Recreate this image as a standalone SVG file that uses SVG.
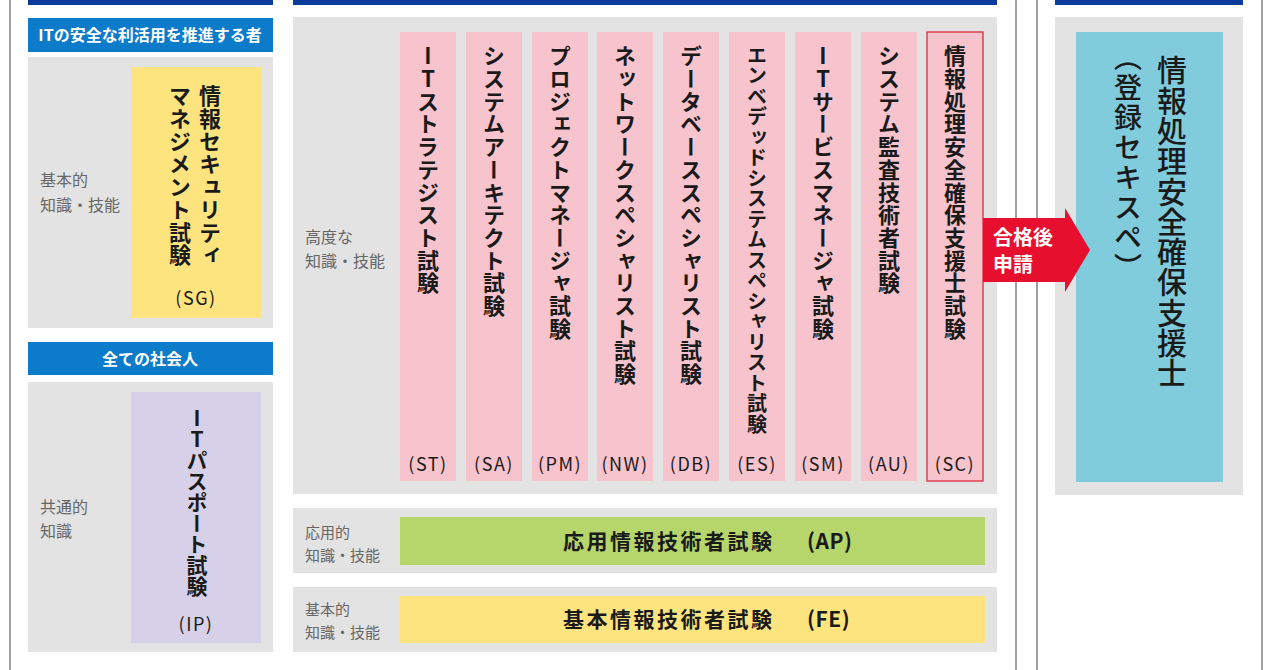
<svg xmlns="http://www.w3.org/2000/svg" width="1280" height="670" viewBox="0 0 1280 670">
<style>
.frame{stroke:#a0a0a0;stroke-width:2;fill:none}
.bar{fill:#0b3c9c}
.hdr{fill:#0b7bca}
.panel{fill:#e3e3e3}
.pink{fill:#f7c3cc}
.hdrt{font-family:"Noto Sans CJK JP",sans-serif;font-size:16px;font-weight:700;fill:#fff;text-anchor:middle}
.lbl{font-family:"Noto Sans CJK JP",sans-serif;font-size:16px;fill:#666}
.lbl2{font-family:"Noto Sans CJK JP",sans-serif;font-size:15px;fill:#666}
.v{font-family:"Noto Sans CJK JP",sans-serif;font-weight:700;fill:#1a1a1a;writing-mode:vertical-rl}
.up{text-orientation:upright}
.col{font-size:22px;letter-spacing:0.7px}
.ab{font-family:"Noto Sans CJK JP",sans-serif;font-size:18px;fill:#1a1a1a;text-anchor:middle;letter-spacing:1.5px}
.ht{font-family:"Noto Sans CJK JP",sans-serif;font-size:21px;font-weight:700;fill:#1a1a1a;letter-spacing:2.5px}
.arrt{font-family:"Noto Sans CJK JP",sans-serif;font-size:20px;font-weight:700;fill:#fff}
</style>
<rect width="1280" height="670" fill="#fff"/>
<g id="frames">
<line class="frame" x1="10" y1="0" x2="10" y2="670"/>
<line class="frame" x1="1016" y1="0" x2="1016" y2="670"/>
<line class="frame" x1="1037" y1="0" x2="1037" y2="670"/>
<line class="frame" x1="1262" y1="0" x2="1262" y2="670"/>
<rect class="bar" x="28" y="0" width="245" height="5"/>
<rect class="bar" x="293" y="0" width="704" height="5"/>
<rect class="bar" x="1055" y="0" width="188" height="5"/>
</g>
<g id="sg-group">
<rect class="hdr" x="28" y="18" width="245" height="34"/>
<text class="hdrt" x="150" y="41">ITの安全な利活用を推進する者</text>
<rect class="panel" x="28" y="57" width="245" height="271"/>
<text class="lbl" x="40" y="186">基本的</text>
<text class="lbl" x="40" y="211">知識・技能</text>
</g>
<g id="node-sg">
<rect x="131" y="67" width="130" height="251" fill="#fde47f"/>
<text class="v col" x="210" y="85">情報セキュリティ</text>
<text class="v col" x="180" y="85">マネジメント試験</text>
<text class="ab" x="196" y="305">(SG)</text>
</g>
<g id="ip-group">
<rect class="hdr" x="28" y="342" width="245" height="33"/>
<text class="hdrt" x="150" y="365">全ての社会人</text>
<rect class="panel" x="28" y="382" width="245" height="270"/>
<text class="lbl" x="40" y="513">共通的</text>
<text class="lbl" x="40" y="537">知識</text>
</g>
<g id="node-ip">
<rect x="131" y="392" width="130" height="251" fill="#d6d1e8"/>
<text class="v up" style="font-size:21px" x="197" y="408">ITパスポート試験</text>
<text class="ab" x="196" y="631">(IP)</text>
</g>
<g id="advanced-group">
<rect class="panel" x="293" y="17" width="704" height="477"/>
<text class="lbl" x="305" y="243">高度な</text>
<text class="lbl" x="305" y="267">知識・技能</text>
</g>
<g id="node-st"><rect class="pink" x="400" y="32" width="56" height="449"/><text class="v col up" x="428" y="45">ITストラテジスト試験</text><text class="ab" x="428" y="471">(ST)</text></g>
<g id="node-sa"><rect class="pink" x="466" y="32" width="56" height="449"/><text class="v col" x="494" y="45">システムアーキテクト試験</text><text class="ab" x="494" y="471">(SA)</text></g>
<g id="node-pm"><rect class="pink" x="532" y="32" width="56" height="449"/><text class="v col" x="560" y="45">プロジェクトマネージャ試験</text><text class="ab" x="560" y="471">(PM)</text></g>
<g id="node-nw"><rect class="pink" x="597" y="32" width="56" height="449"/><text class="v col" x="625" y="45">ネットワークスペシャリスト試験</text><text class="ab" x="625" y="471">(NW)</text></g>
<g id="node-db"><rect class="pink" x="663" y="32" width="56" height="449"/><text class="v col" x="691" y="45">データベーススペシャリスト試験</text><text class="ab" x="691" y="471">(DB)</text></g>
<g id="node-es"><rect class="pink" x="729" y="32" width="56" height="449"/><text class="v" style="font-size:20px;letter-spacing:0.5px" x="757" y="45">エンベデッドシステムスペシャリスト試験</text><text class="ab" x="757" y="471">(ES)</text></g>
<g id="node-sm"><rect class="pink" x="795" y="32" width="56" height="449"/><text class="v col up" x="823" y="45">ITサービスマネージャ試験</text><text class="ab" x="823" y="471">(SM)</text></g>
<g id="node-au"><rect class="pink" x="861" y="32" width="56" height="449"/><text class="v col" x="889" y="45">システム監査技術者試験</text><text class="ab" x="889" y="471">(AU)</text></g>
<g id="node-sc"><rect class="pink" x="927" y="32" width="56" height="449" stroke="#e04050" stroke-width="1.5"/><text class="v col" x="955" y="45">情報処理安全確保支援士試験</text><text class="ab" x="955" y="471">(SC)</text></g>
<g id="node-ap">
<rect class="panel" x="293" y="508" width="704" height="65"/>
<text class="lbl2" x="305" y="538">応用的</text>
<text class="lbl2" x="305" y="561">知識・技能</text>
<rect x="400" y="517" width="585" height="48" fill="#b6d56b"/>
<text class="ht" x="563" y="549">応用情報技術者試験</text>
<text class="ht" x="807" y="549" style="letter-spacing:0.5px">(AP)</text>
</g>
<g id="node-fe">
<rect class="panel" x="293" y="587" width="704" height="65"/>
<text class="lbl2" x="305" y="615">基本的</text>
<text class="lbl2" x="305" y="638">知識・技能</text>
<rect x="400" y="596" width="585" height="47" fill="#fde47f"/>
<text class="ht" x="563" y="627">基本情報技術者試験</text>
<text class="ht" x="807" y="627" style="letter-spacing:0.5px">(FE)</text>
</g>
<g id="node-riss">
<rect class="panel" x="1055" y="17" width="188" height="478"/>
<rect x="1076" y="32" width="147" height="450" fill="#80cbdc"/>
<text class="v" style="font-size:30px;font-weight:500;letter-spacing:0.3px" x="1172" y="55">情報処理安全確保支援士</text>
<text class="v" style="font-size:28px;font-weight:500;letter-spacing:2px" x="1128" y="43">（登録セキスペ）</text>
</g>
<g id="connectors">
<polygon points="983,218 1065,218 1065,208 1090,250 1065,292 1065,282 983,282" fill="#e60f2d"/>
<text class="arrt" x="993" y="245">合格後</text>
<text class="arrt" x="993" y="272">申請</text>
</g>
</svg>
